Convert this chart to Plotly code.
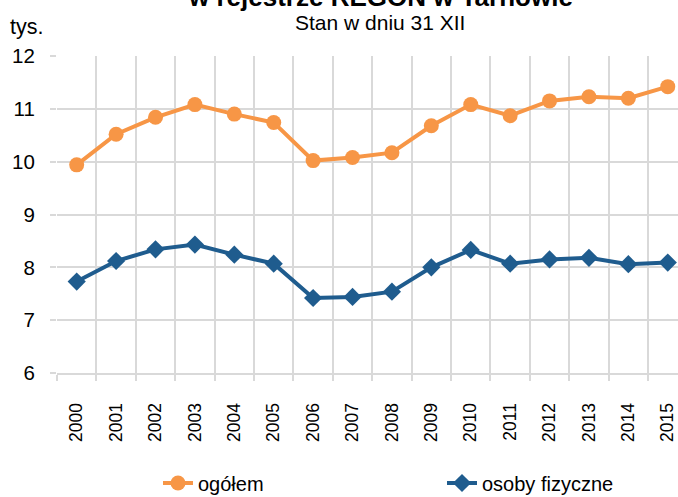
import plotly.graph_objects as go

# Registered entities in REGON, Tarnów (thousands), as of 31 Dec
years = ["2000", "2001", "2002", "2003", "2004", "2005", "2006", "2007",
         "2008", "2009", "2010", "2011", "2012", "2013", "2014", "2015"]
ogolem = [9.94, 10.52, 10.84, 11.08, 10.90, 10.74, 10.02, 10.08,
          10.17, 10.68, 11.08, 10.87, 11.15, 11.23, 11.20, 11.42]
osoby_fizyczne = [7.73, 8.12, 8.34, 8.43, 8.24, 8.07, 7.42, 7.44,
                  7.54, 8.00, 8.33, 8.07, 8.15, 8.18, 8.06, 8.09]
y_ticks = [6, 7, 8, 9, 10, 11, 12]

ORANGE = "#F79646"
BLUE = "#1F5C8E"
GRID = "#D9D9D9"
FONT = "Liberation Sans, Arial, sans-serif"

# plot area in pixels
L, T, W, H = 57, 56, 621, 317

xpos = list(range(len(years)))

fig = go.Figure()
fig.add_trace(go.Scatter(
    x=xpos, y=ogolem, name="ogółem", mode="lines+markers",
    line=dict(color=ORANGE, width=4),
    marker=dict(symbol="circle", size=15, color=ORANGE),
    legend="legend",
))
fig.add_trace(go.Scatter(
    x=xpos, y=osoby_fizyczne, name="osoby fizyczne", mode="lines+markers",
    line=dict(color=BLUE, width=4),
    marker=dict(symbol="diamond", size=14, color=BLUE),
    legend="legend2",
))

legend_common = dict(orientation="h", yanchor="middle", xanchor="left",
                     y=-(483 - (T + H)) / H, font=dict(size=20),
                     bgcolor="rgba(0,0,0,0)")

fig.update_layout(
    width=678, height=497,
    margin=dict(l=L, r=0, t=T, b=497 - T - H, autoexpand=False),
    paper_bgcolor="white", plot_bgcolor="white",
    font=dict(family=FONT, size=18, color="black"),
    showlegend=True,
    legend=dict(x=(158 - L) / W, **legend_common),
    legend2=dict(x=(442 - L) / W, **legend_common),
    xaxis=dict(
        range=[-0.5, 15.26], tickmode="array", tickvals=xpos, ticktext=years,
        tickangle=-90, ticks="", showgrid=False, zeroline=False,
        showline=True, linecolor=GRID, linewidth=2,
        tickfont=dict(size=17.5), ticklabelstandoff=21, automargin=False,
        minor=dict(tickmode="array", tickvals=[i - 0.5 for i in range(17)],
                   showgrid=True, gridcolor=GRID, gridwidth=2,
                   ticks="outside", ticklen=6, tickcolor=GRID, tickwidth=2),
    ),
    yaxis=dict(
        range=[6, 12], tickmode="array", tickvals=y_ticks,
        showgrid=True, gridcolor=GRID, gridwidth=2, zeroline=False,
        ticks="outside", ticklen=6, tickcolor=GRID, tickwidth=2,
        tickfont=dict(size=20.5), ticklabelstandoff=11, automargin=False,
    ),
    annotations=[
        dict(text="<b>w rejestrze REGON w Tarnowie</b>", xref="paper", yref="paper",
             x=(380 - L) / W, y=1 + (T - 8) / H, xanchor="center", yanchor="bottom",
             yshift=-6, showarrow=False, font=dict(size=26)),
        dict(text="Stan w dniu 31 XII", xref="paper", yref="paper",
             x=(380 - L) / W, y=1 + (T - 22) / H, xanchor="center", yanchor="middle",
             showarrow=False, font=dict(size=21)),
        dict(text="tys.", xref="paper", yref="paper",
             x=-(L - 8) / W, y=1 + (T - 27) / H, xanchor="left", yanchor="middle",
             showarrow=False, font=dict(size=21.5)),
    ],
)

fig.write_html("out.html")
